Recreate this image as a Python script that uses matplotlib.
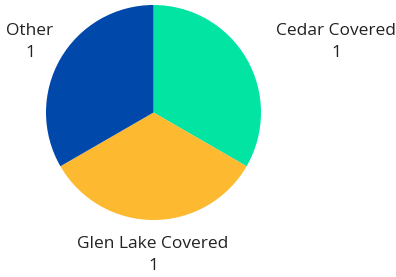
import matplotlib.pyplot as plt

labels = ['Cedar Covered', 'Glen Lake Covered', 'Other']
values = [1, 1, 1]
colors = ['#02E4A2', '#FDB92F', '#0049AB']

W, H = 396, 277
fig = plt.figure(figsize=(W / 100, H / 100), dpi=100)
cx, cy, r = 153.5, 112.5, 107.5
ax = fig.add_axes([(cx - r) / W, (H - cy - r) / H, 2 * r / W, 2 * r / H])
ax.pie(values, colors=colors, startangle=90, counterclock=False, radius=1,
       wedgeprops={'linewidth': 0})
ax.set_xlim(-1, 1)
ax.set_ylim(-1, 1)
ax.set_aspect('equal')
ax.axis('off')

# label positions in pixels (center x, middle y of the two lines)
label_pos = [(336, 42), (153, 255), (30, 42)]
for lab, val, (x, y) in zip(labels, values, label_pos):
    fig.text(x / W, 1 - y / H, f'{lab}\n{val}', ha='center', va='center',
             fontsize=12.5, color='#222222', linespacing=1.5, family='Open Sans')

fig.savefig('out.png', dpi=100)
